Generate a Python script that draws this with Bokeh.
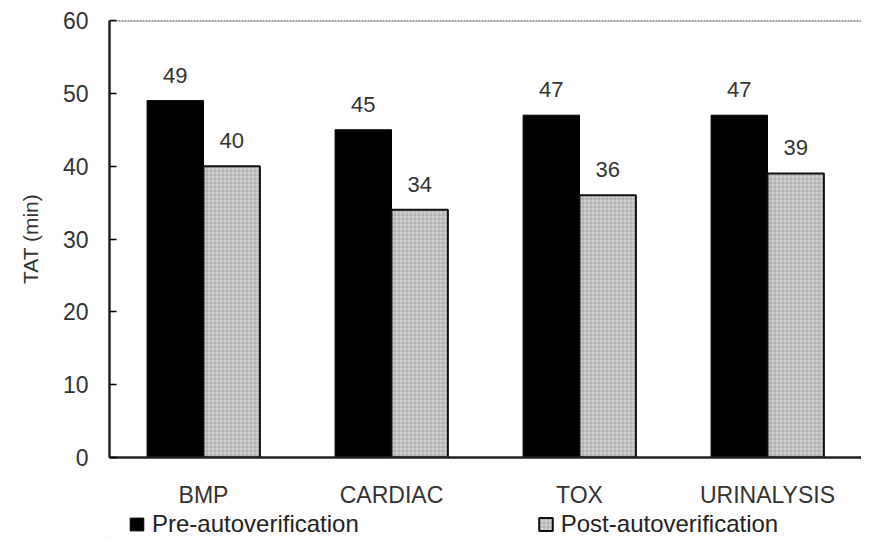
from bokeh.plotting import figure
from bokeh.layouts import column
from bokeh.models import (ColumnDataSource, FactorRange, Range1d, Span, Legend,
                          LegendItem, FixedTicker)
from bokeh.transform import dodge
from bokeh.embed import file_html
from bokeh.resources import INLINE
from bokeh.core.properties import value

categories = ["BMP", "CARDIAC", "TOX", "URINALYSIS"]
pre_values = [49, 45, 47, 47]
post_values = [40, 34, 36, 39]
y_ticks = [0, 10, 20, 30, 40, 50, 60]
series_names = ["Pre-autoverification", "Post-autoverification"]

FONT = "Liberation Sans"
TXT = "#333333"

PRE_STYLE = dict(fill_color="black", line_color="black")
POST_STYLE = dict(fill_color="#d2d2d2", line_color="#111111", line_width=2,
                  hatch_pattern="+", hatch_scale=4, hatch_color="#777777",
                  hatch_alpha=0.7, hatch_weight=0.6)

src = ColumnDataSource(dict(
    cat=categories,
    pre=pre_values,
    post=post_values,
    pre_lbl=[str(v) for v in pre_values],
    post_lbl=[str(v) for v in post_values],
))

p = figure(width=861, height=510, output_backend="svg", toolbar_location=None,
           x_range=FactorRange(factors=categories),
           y_range=Range1d(0, 60),
           min_border_left=109, min_border_right=0, min_border_top=20,
           min_border_bottom=45)
p.x_range.factor_padding = 0
p.x_range.range_padding = 0

p.vbar(x=dodge("cat", -0.15, range=p.x_range), top="pre", width=0.3,
       source=src, **PRE_STYLE)
p.vbar(x=dodge("cat", 0.15, range=p.x_range), top="post", width=0.3,
       source=src, **POST_STYLE)

p.text(x=dodge("cat", -0.15, range=p.x_range), y="pre", text="pre_lbl",
       source=src, text_align="center", text_baseline="bottom", y_offset=-18,
       text_font=value(FONT), text_font_size="22px", text_color=TXT)
p.text(x=dodge("cat", 0.15, range=p.x_range), y="post", text="post_lbl",
       source=src, text_align="center", text_baseline="bottom", y_offset=-18,
       text_font=value(FONT), text_font_size="22px", text_color=TXT)

p.add_layout(Span(location=60, dimension="width", line_color="#333333",
                  line_dash="2 1", line_width=2))

p.outline_line_color = None
p.xgrid.grid_line_color = None
p.ygrid.grid_line_color = None

p.yaxis.ticker = FixedTicker(ticks=y_ticks)
p.yaxis.major_tick_in = 7
p.yaxis.major_tick_out = 0
p.yaxis.minor_tick_line_color = None
p.yaxis.axis_line_width = 2.5
p.yaxis.axis_line_color = "#222222"
p.yaxis.major_tick_line_width = 1.5
p.yaxis.major_label_text_font = FONT
p.yaxis.major_label_text_font_size = "23px"
p.yaxis.major_label_text_color = TXT
p.yaxis.major_label_standoff = 21
p.yaxis.axis_label = "TAT (min)"
p.yaxis.axis_label_text_font = FONT
p.yaxis.axis_label_text_font_size = "21px"
p.yaxis.axis_label_text_font_style = "normal"
p.yaxis.axis_label_text_color = TXT
p.yaxis.axis_label_standoff = 18

p.xaxis.axis_line_width = 2.5
p.xaxis.axis_line_color = "#222222"
p.xaxis.major_tick_line_color = None
p.xaxis.minor_tick_line_color = None
p.xaxis.major_label_text_font = FONT
p.xaxis.major_label_text_font_size = "23px"
p.xaxis.major_label_text_color = TXT
p.xaxis.major_label_standoff = 18

# legend strip below the chart (its frame is aligned with the chart's frame)
lg = figure(width=861, height=28, output_backend="svg", toolbar_location=None,
            x_range=Range1d(0, 1), y_range=Range1d(0, 1),
            min_border_left=0, min_border_right=0, min_border_top=0,
            min_border_bottom=0)
lg.xaxis.visible = False
lg.yaxis.visible = False
lg.xgrid.grid_line_color = None
lg.ygrid.grid_line_color = None
lg.outline_line_color = None
# off-range placeholder renderers that only supply the legend swatches
d_pre = lg.vbar(x=[-10], top=[-10], width=0.1, **PRE_STYLE)
d_post = lg.vbar(x=[-10], top=[-10], width=0.1, **POST_STYLE)

legend = Legend(items=[
    LegendItem(label=series_names[0], renderers=[d_pre]),
    LegendItem(label=series_names[1], renderers=[d_post]),
], orientation="horizontal", location=(19, 0))
legend.label_text_font = FONT
legend.label_text_font_size = "24px"
legend.label_text_color = "#222222"
legend.glyph_width = 17
legend.glyph_height = 16
legend.label_standoff = 7
legend.spacing = 178
legend.padding = 0
legend.margin = 0
legend.border_line_color = None
legend.background_fill_alpha = 0
lg.add_layout(legend, "center")

layout = column(p, lg, spacing=0)
open("out.html", "w").write(file_html(layout, INLINE))
